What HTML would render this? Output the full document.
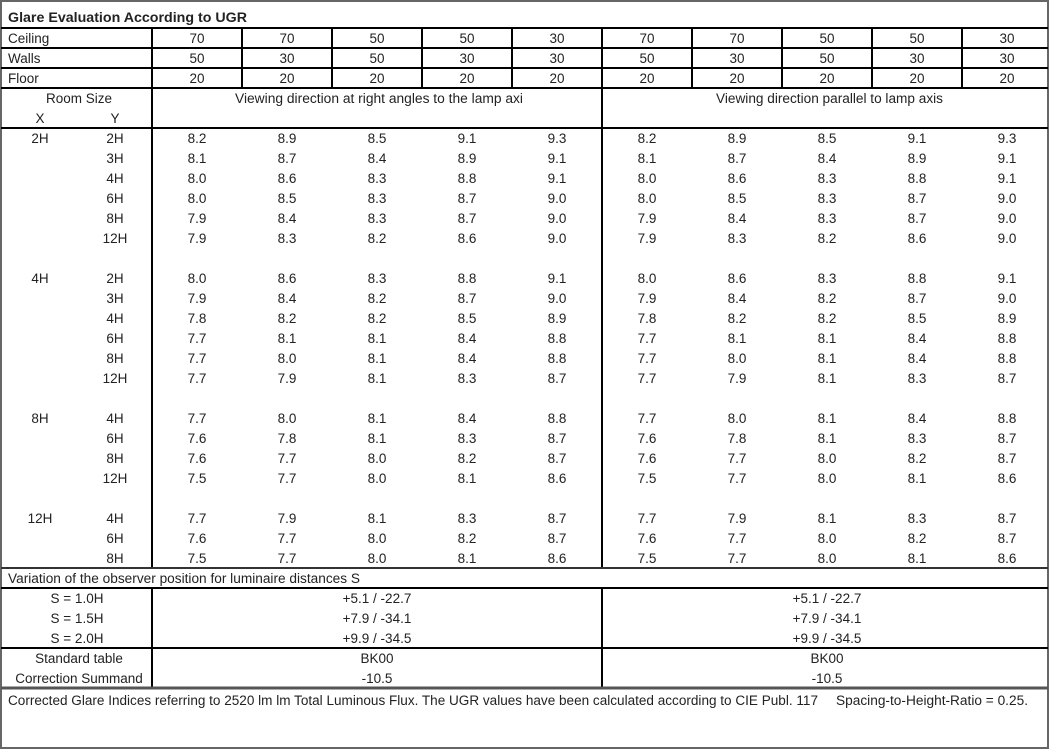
<!DOCTYPE html>
<html><head><meta charset="utf-8"><style>
html,body{margin:0;padding:0;background:#fff}
svg{display:block}
text{font-family:"Liberation Sans",sans-serif;font-size:13.5px;fill:#222}
.c{text-anchor:middle}
</style></head><body>
<svg width="1050" height="750" viewBox="0 0 1050 750" xmlns="http://www.w3.org/2000/svg">
<rect x="1" y="1" width="1047" height="747" fill="#fff" stroke="#666" stroke-width="2"/>
<g stroke="#000" stroke-width="2">
<line x1="1" y1="28" x2="1048" y2="28"/>
<line x1="1" y1="48" x2="1048" y2="48"/>
<line x1="1" y1="68" x2="1048" y2="68"/>
<line x1="1" y1="88" x2="1048" y2="88"/>
<line x1="1" y1="128" x2="1048" y2="128"/>
<line x1="1" y1="588" x2="1048" y2="588"/>
<line x1="1" y1="648" x2="1048" y2="648"/>
<line x1="152" y1="28" x2="152" y2="568"/>
<line x1="152" y1="588" x2="152" y2="688"/>
<line x1="602" y1="28" x2="602" y2="568"/>
<line x1="602" y1="588" x2="602" y2="688"/>
<line x1="242" y1="28" x2="242" y2="88"/>
<line x1="332" y1="28" x2="332" y2="88"/>
<line x1="422" y1="28" x2="422" y2="88"/>
<line x1="512" y1="28" x2="512" y2="88"/>
<line x1="692" y1="28" x2="692" y2="88"/>
<line x1="782" y1="28" x2="782" y2="88"/>
<line x1="872" y1="28" x2="872" y2="88"/>
<line x1="962" y1="28" x2="962" y2="88"/>
</g>
<line x1="1" y1="568" x2="1048" y2="568" stroke="#333" stroke-width="2"/>
<line x1="1" y1="688" x2="1048" y2="688" stroke="#555" stroke-width="3"/>

<text x="8" y="22" style="font-weight:bold" textLength="239" lengthAdjust="spacingAndGlyphs">Glare Evaluation According to UGR</text>
<text x="8" y="43">Ceiling</text><text x="8" y="63">Walls</text><text x="8" y="83">Floor</text>
<g class="c">
<text class="c" x="197" y="43">70</text><text class="c" x="287" y="43">70</text><text class="c" x="377" y="43">50</text><text class="c" x="467" y="43">50</text><text class="c" x="557" y="43">30</text><text class="c" x="647" y="43">70</text><text class="c" x="737" y="43">70</text><text class="c" x="827" y="43">50</text><text class="c" x="917" y="43">50</text><text class="c" x="1007" y="43">30</text>
<text class="c" x="197" y="63">50</text><text class="c" x="287" y="63">30</text><text class="c" x="377" y="63">50</text><text class="c" x="467" y="63">30</text><text class="c" x="557" y="63">30</text><text class="c" x="647" y="63">50</text><text class="c" x="737" y="63">30</text><text class="c" x="827" y="63">50</text><text class="c" x="917" y="63">30</text><text class="c" x="1007" y="63">30</text>
<text class="c" x="197" y="83">20</text><text class="c" x="287" y="83">20</text><text class="c" x="377" y="83">20</text><text class="c" x="467" y="83">20</text><text class="c" x="557" y="83">20</text><text class="c" x="647" y="83">20</text><text class="c" x="737" y="83">20</text><text class="c" x="827" y="83">20</text><text class="c" x="917" y="83">20</text><text class="c" x="1007" y="83">20</text>
</g>
<text class="c" x="79" y="103">Room Size</text>
<text class="c" x="40" y="123">X</text><text class="c" x="115" y="123">Y</text>
<text x="235" y="103" textLength="288" lengthAdjust="spacingAndGlyphs">Viewing direction at right angles to the lamp axi</text>
<text x="716" y="103" textLength="227" lengthAdjust="spacingAndGlyphs">Viewing direction parallel to lamp axis</text>

<!-- 2H -->
<text class="c" x="40" y="143">2H</text>
<text class="c" x="115" y="143">2H</text><text class="c" x="115" y="163">3H</text><text class="c" x="115" y="183">4H</text><text class="c" x="115" y="203">6H</text><text class="c" x="115" y="223">8H</text><text class="c" x="115" y="243">12H</text>
<text class="c" x="197" y="143">8.2</text><text class="c" x="287" y="143">8.9</text><text class="c" x="377" y="143">8.5</text><text class="c" x="467" y="143">9.1</text><text class="c" x="557" y="143">9.3</text><text class="c" x="647" y="143">8.2</text><text class="c" x="737" y="143">8.9</text><text class="c" x="827" y="143">8.5</text><text class="c" x="917" y="143">9.1</text><text class="c" x="1007" y="143">9.3</text>
<text class="c" x="197" y="163">8.1</text><text class="c" x="287" y="163">8.7</text><text class="c" x="377" y="163">8.4</text><text class="c" x="467" y="163">8.9</text><text class="c" x="557" y="163">9.1</text><text class="c" x="647" y="163">8.1</text><text class="c" x="737" y="163">8.7</text><text class="c" x="827" y="163">8.4</text><text class="c" x="917" y="163">8.9</text><text class="c" x="1007" y="163">9.1</text>
<text class="c" x="197" y="183">8.0</text><text class="c" x="287" y="183">8.6</text><text class="c" x="377" y="183">8.3</text><text class="c" x="467" y="183">8.8</text><text class="c" x="557" y="183">9.1</text><text class="c" x="647" y="183">8.0</text><text class="c" x="737" y="183">8.6</text><text class="c" x="827" y="183">8.3</text><text class="c" x="917" y="183">8.8</text><text class="c" x="1007" y="183">9.1</text>
<text class="c" x="197" y="203">8.0</text><text class="c" x="287" y="203">8.5</text><text class="c" x="377" y="203">8.3</text><text class="c" x="467" y="203">8.7</text><text class="c" x="557" y="203">9.0</text><text class="c" x="647" y="203">8.0</text><text class="c" x="737" y="203">8.5</text><text class="c" x="827" y="203">8.3</text><text class="c" x="917" y="203">8.7</text><text class="c" x="1007" y="203">9.0</text>
<text class="c" x="197" y="223">7.9</text><text class="c" x="287" y="223">8.4</text><text class="c" x="377" y="223">8.3</text><text class="c" x="467" y="223">8.7</text><text class="c" x="557" y="223">9.0</text><text class="c" x="647" y="223">7.9</text><text class="c" x="737" y="223">8.4</text><text class="c" x="827" y="223">8.3</text><text class="c" x="917" y="223">8.7</text><text class="c" x="1007" y="223">9.0</text>
<text class="c" x="197" y="243">7.9</text><text class="c" x="287" y="243">8.3</text><text class="c" x="377" y="243">8.2</text><text class="c" x="467" y="243">8.6</text><text class="c" x="557" y="243">9.0</text><text class="c" x="647" y="243">7.9</text><text class="c" x="737" y="243">8.3</text><text class="c" x="827" y="243">8.2</text><text class="c" x="917" y="243">8.6</text><text class="c" x="1007" y="243">9.0</text>

<!-- 4H -->
<text class="c" x="40" y="283">4H</text>
<text class="c" x="115" y="283">2H</text><text class="c" x="115" y="303">3H</text><text class="c" x="115" y="323">4H</text><text class="c" x="115" y="343">6H</text><text class="c" x="115" y="363">8H</text><text class="c" x="115" y="383">12H</text>
<text class="c" x="197" y="283">8.0</text><text class="c" x="287" y="283">8.6</text><text class="c" x="377" y="283">8.3</text><text class="c" x="467" y="283">8.8</text><text class="c" x="557" y="283">9.1</text><text class="c" x="647" y="283">8.0</text><text class="c" x="737" y="283">8.6</text><text class="c" x="827" y="283">8.3</text><text class="c" x="917" y="283">8.8</text><text class="c" x="1007" y="283">9.1</text>
<text class="c" x="197" y="303">7.9</text><text class="c" x="287" y="303">8.4</text><text class="c" x="377" y="303">8.2</text><text class="c" x="467" y="303">8.7</text><text class="c" x="557" y="303">9.0</text><text class="c" x="647" y="303">7.9</text><text class="c" x="737" y="303">8.4</text><text class="c" x="827" y="303">8.2</text><text class="c" x="917" y="303">8.7</text><text class="c" x="1007" y="303">9.0</text>
<text class="c" x="197" y="323">7.8</text><text class="c" x="287" y="323">8.2</text><text class="c" x="377" y="323">8.2</text><text class="c" x="467" y="323">8.5</text><text class="c" x="557" y="323">8.9</text><text class="c" x="647" y="323">7.8</text><text class="c" x="737" y="323">8.2</text><text class="c" x="827" y="323">8.2</text><text class="c" x="917" y="323">8.5</text><text class="c" x="1007" y="323">8.9</text>
<text class="c" x="197" y="343">7.7</text><text class="c" x="287" y="343">8.1</text><text class="c" x="377" y="343">8.1</text><text class="c" x="467" y="343">8.4</text><text class="c" x="557" y="343">8.8</text><text class="c" x="647" y="343">7.7</text><text class="c" x="737" y="343">8.1</text><text class="c" x="827" y="343">8.1</text><text class="c" x="917" y="343">8.4</text><text class="c" x="1007" y="343">8.8</text>
<text class="c" x="197" y="363">7.7</text><text class="c" x="287" y="363">8.0</text><text class="c" x="377" y="363">8.1</text><text class="c" x="467" y="363">8.4</text><text class="c" x="557" y="363">8.8</text><text class="c" x="647" y="363">7.7</text><text class="c" x="737" y="363">8.0</text><text class="c" x="827" y="363">8.1</text><text class="c" x="917" y="363">8.4</text><text class="c" x="1007" y="363">8.8</text>
<text class="c" x="197" y="383">7.7</text><text class="c" x="287" y="383">7.9</text><text class="c" x="377" y="383">8.1</text><text class="c" x="467" y="383">8.3</text><text class="c" x="557" y="383">8.7</text><text class="c" x="647" y="383">7.7</text><text class="c" x="737" y="383">7.9</text><text class="c" x="827" y="383">8.1</text><text class="c" x="917" y="383">8.3</text><text class="c" x="1007" y="383">8.7</text>

<!-- 8H -->
<text class="c" x="40" y="423">8H</text>
<text class="c" x="115" y="423">4H</text><text class="c" x="115" y="443">6H</text><text class="c" x="115" y="463">8H</text><text class="c" x="115" y="483">12H</text>
<text class="c" x="197" y="423">7.7</text><text class="c" x="287" y="423">8.0</text><text class="c" x="377" y="423">8.1</text><text class="c" x="467" y="423">8.4</text><text class="c" x="557" y="423">8.8</text><text class="c" x="647" y="423">7.7</text><text class="c" x="737" y="423">8.0</text><text class="c" x="827" y="423">8.1</text><text class="c" x="917" y="423">8.4</text><text class="c" x="1007" y="423">8.8</text>
<text class="c" x="197" y="443">7.6</text><text class="c" x="287" y="443">7.8</text><text class="c" x="377" y="443">8.1</text><text class="c" x="467" y="443">8.3</text><text class="c" x="557" y="443">8.7</text><text class="c" x="647" y="443">7.6</text><text class="c" x="737" y="443">7.8</text><text class="c" x="827" y="443">8.1</text><text class="c" x="917" y="443">8.3</text><text class="c" x="1007" y="443">8.7</text>
<text class="c" x="197" y="463">7.6</text><text class="c" x="287" y="463">7.7</text><text class="c" x="377" y="463">8.0</text><text class="c" x="467" y="463">8.2</text><text class="c" x="557" y="463">8.7</text><text class="c" x="647" y="463">7.6</text><text class="c" x="737" y="463">7.7</text><text class="c" x="827" y="463">8.0</text><text class="c" x="917" y="463">8.2</text><text class="c" x="1007" y="463">8.7</text>
<text class="c" x="197" y="483">7.5</text><text class="c" x="287" y="483">7.7</text><text class="c" x="377" y="483">8.0</text><text class="c" x="467" y="483">8.1</text><text class="c" x="557" y="483">8.6</text><text class="c" x="647" y="483">7.5</text><text class="c" x="737" y="483">7.7</text><text class="c" x="827" y="483">8.0</text><text class="c" x="917" y="483">8.1</text><text class="c" x="1007" y="483">8.6</text>

<!-- 12H -->
<text class="c" x="40" y="523">12H</text>
<text class="c" x="115" y="523">4H</text><text class="c" x="115" y="543">6H</text><text class="c" x="115" y="563">8H</text>
<text class="c" x="197" y="523">7.7</text><text class="c" x="287" y="523">7.9</text><text class="c" x="377" y="523">8.1</text><text class="c" x="467" y="523">8.3</text><text class="c" x="557" y="523">8.7</text><text class="c" x="647" y="523">7.7</text><text class="c" x="737" y="523">7.9</text><text class="c" x="827" y="523">8.1</text><text class="c" x="917" y="523">8.3</text><text class="c" x="1007" y="523">8.7</text>
<text class="c" x="197" y="543">7.6</text><text class="c" x="287" y="543">7.7</text><text class="c" x="377" y="543">8.0</text><text class="c" x="467" y="543">8.2</text><text class="c" x="557" y="543">8.7</text><text class="c" x="647" y="543">7.6</text><text class="c" x="737" y="543">7.7</text><text class="c" x="827" y="543">8.0</text><text class="c" x="917" y="543">8.2</text><text class="c" x="1007" y="543">8.7</text>
<text class="c" x="197" y="563">7.5</text><text class="c" x="287" y="563">7.7</text><text class="c" x="377" y="563">8.0</text><text class="c" x="467" y="563">8.1</text><text class="c" x="557" y="563">8.6</text><text class="c" x="647" y="563">7.5</text><text class="c" x="737" y="563">7.7</text><text class="c" x="827" y="563">8.0</text><text class="c" x="917" y="563">8.1</text><text class="c" x="1007" y="563">8.6</text>

<text x="8" y="583" textLength="352" lengthAdjust="spacingAndGlyphs">Variation of the observer position for luminaire distances S</text>
<text class="c" x="77" y="603">S = 1.0H</text><text class="c" x="77" y="623">S = 1.5H</text><text class="c" x="77" y="643">S = 2.0H</text>
<text class="c" x="377" y="603">+5.1 / -22.7</text><text class="c" x="377" y="623">+7.9 / -34.1</text><text class="c" x="377" y="643">+9.9 / -34.5</text>
<text class="c" x="827" y="603">+5.1 / -22.7</text><text class="c" x="827" y="623">+7.9 / -34.1</text><text class="c" x="827" y="643">+9.9 / -34.5</text>
<text class="c" x="79" y="663">Standard table</text><text class="c" x="79" y="683">Correction Summand</text>
<text class="c" x="377" y="663">BK00</text><text class="c" x="377" y="683">-10.5</text>
<text class="c" x="827" y="663">BK00</text><text class="c" x="827" y="683">-10.5</text>
<text x="8" y="705" textLength="810" lengthAdjust="spacingAndGlyphs">Corrected Glare Indices referring to 2520 lm lm Total Luminous Flux. The UGR values have been calculated according to CIE Publ. 117</text>
<text x="836" y="705" textLength="192" lengthAdjust="spacingAndGlyphs">Spacing-to-Height-Ratio = 0.25.</text>
</svg>
</body></html>
